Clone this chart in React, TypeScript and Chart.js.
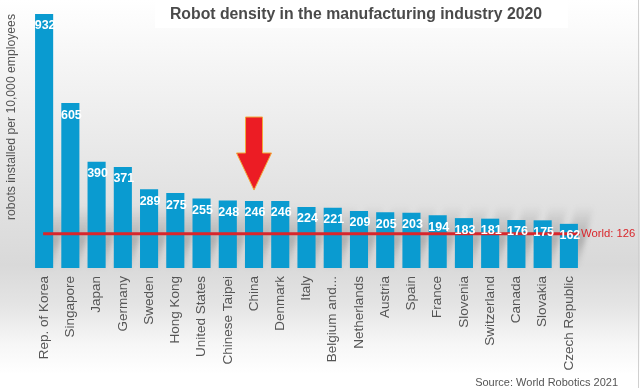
import React, { useEffect, useRef } from "react";
import { Chart, registerables } from "chart.js";

Chart.register(...registerables);

const countries = [
  "Rep. of Korea", "Singapore", "Japan", "Germany", "Sweden", "Hong Kong",
  "United States", "Chinese Taipei", "China", "Denmark", "Italy", "Belgium and...",
  "Netherlands", "Austria", "Spain", "France", "Slovenia", "Switzerland",
  "Canada", "Slovakia", "Czech Republic",
];
const density = [
  932, 605, 390, 371, 289, 275, 255, 248, 246, 246, 224, 221, 209, 205, 203,
  194, 183, 181, 176, 175, 162,
];
const worldAverage = 126;
const worldLabel = "World: 126";
const highlightCountry = "China";
// arrow drawn in data units above the highlighted bar: [top, neck, tip]
const arrowValues = [554, 422, 286];

const titleText = "Robot density in the manufacturing industry 2020";
const yTitleText = "robots installed per 10,000 employees";
const sourceText = "Source: World Robotics 2021";

const FONT = "'Liberation Sans', Arial, sans-serif";

const overlayPlugin = {
  id: "overlay",
  beforeDatasetsDraw(chart: any) {
    const ctx = chart.ctx;
    const meta = chart.getDatasetMeta(0);
    const bottom = chart.chartArea.bottom;
    ctx.save();
    (ctx as any).filter = "blur(2.5px)";
    meta.data.forEach((bar: any) => {
      const l = bar.x - bar.width / 2;
      const r = bar.x + bar.width / 2;
      const h = 62;
      const g = ctx.createLinearGradient(0, bottom, 0, bottom - h);
      g.addColorStop(0, "rgba(90,90,90,0.05)");
      g.addColorStop(0.45, "rgba(90,90,90,0.35)");
      g.addColorStop(1, "rgba(90,90,90,0)");
      ctx.fillStyle = g;
      ctx.beginPath();
      ctx.moveTo(l, bottom);
      ctx.lineTo(r, bottom);
      ctx.lineTo(r + 16, bottom - h);
      ctx.lineTo(l + 16, bottom - h);
      ctx.closePath();
      ctx.fill();
    });
    ctx.restore();
  },
  afterDatasetsDraw(chart: any) {
    const ctx = chart.ctx;
    const x = chart.scales.x;
    const y = chart.scales.y;
    const meta = chart.getDatasetMeta(0);

    // world line
    const firstBar = meta.data[0];
    const lastBar = meta.data[meta.data.length - 1];
    const wy = y.getPixelForValue(worldAverage);
    ctx.save();
    ctx.strokeStyle = "#d9262b";
    ctx.lineWidth = 3;
    ctx.beginPath();
    ctx.moveTo(firstBar.x - 1, wy);
    ctx.lineTo(lastBar.x + lastBar.width / 2 + 2, wy);
    ctx.stroke();
    ctx.fillStyle = "#d9262b";
    ctx.font = `11.3px ${FONT}`;
    ctx.textAlign = "left";
    ctx.textBaseline = "middle";
    ctx.fillText(worldLabel, lastBar.x + lastBar.width / 2 + 3, wy);
    ctx.restore();

    // value labels
    ctx.save();
    ctx.fillStyle = "#ffffff";
    ctx.font = `bold 12.5px ${FONT}`;
    ctx.textAlign = "center";
    ctx.textBaseline = "middle";
    meta.data.forEach((bar: any, i: number) => {
      ctx.fillText(String(density[i]), bar.x + 1, bar.y + 12);
    });
    ctx.restore();

    // arrow
    const idx = countries.indexOf(highlightCountry);
    const ax = x.getPixelForValue(idx);
    const top = y.getPixelForValue(arrowValues[0]);
    const neck = y.getPixelForValue(arrowValues[1]);
    const tip = y.getPixelForValue(arrowValues[2]);
    ctx.save();
    ctx.beginPath();
    ctx.moveTo(ax - 8.5, top);
    ctx.lineTo(ax + 8.5, top);
    ctx.lineTo(ax + 8.5, neck);
    ctx.lineTo(ax + 17.5, neck);
    ctx.lineTo(ax, tip);
    ctx.lineTo(ax - 17.5, neck);
    ctx.lineTo(ax - 8.5, neck);
    ctx.closePath();
    ctx.fillStyle = "#ec1c24";
    ctx.fill();
    ctx.strokeStyle = "#f2a93b";
    ctx.lineWidth = 1;
    ctx.stroke();
    ctx.restore();
  },
  afterDraw(chart: any) {
    const ctx = chart.ctx;
    ctx.save();
    // title box
    ctx.fillStyle = "rgba(255,255,255,0.9)";
    ctx.fillRect(155, 0, 413, 28);
    ctx.fillStyle = "#4a4a4a";
    ctx.font = `bold 15.8px ${FONT}`;
    ctx.textAlign = "center";
    ctx.textBaseline = "middle";
    ctx.fillText(titleText, 356, 15);

    // y title
    ctx.save();
    ctx.translate(12, 117);
    ctx.rotate(-Math.PI / 2);
    ctx.fillStyle = "#555555";
    ctx.font = `12.2px ${FONT}`;
    ctx.textAlign = "center";
    ctx.textBaseline = "middle";
    ctx.fillText(yTitleText, 0, 0);
    ctx.restore();

    // source
    ctx.fillStyle = "#555555";
    ctx.font = `11px ${FONT}`;
    ctx.textAlign = "right";
    ctx.textBaseline = "middle";
    ctx.fillText(sourceText, 618, 383);

    // right border line
    ctx.fillStyle = "#d0d0d0";
    ctx.fillRect(638, 0, 1, 388);
    ctx.restore();
  },
};

export default function App() {
  const ref = useRef<HTMLCanvasElement | null>(null);
  useEffect(() => {
    document.body.style.margin = "0";
    if (!ref.current) return;
    const chart = new Chart(ref.current, {
      type: "bar",
      data: {
        labels: countries,
        datasets: [
          {
            data: density,
            backgroundColor: "#0a9bd0",
            barPercentage: 0.69,
            categoryPercentage: 1,
          },
        ],
      },
      options: {
        animation: false,
        responsive: false,
        devicePixelRatio: 1,
        layout: { padding: { left: 31, right: 58, top: 14, bottom: 0 } },
        plugins: {
          legend: { display: false },
          title: { display: false },
          tooltip: { enabled: false },
        },
        scales: {
          x: {
            grid: { display: false, drawTicks: false },
            border: { display: false },
            ticks: {
              autoSkip: false,
              maxRotation: 90,
              minRotation: 90,
              padding: 8,
              color: "#555555",
              font: { family: FONT, size: 13.5 },
            },
            afterFit: (scale: any) => {
              scale.height = 122;
            },
          },
          y: {
            display: false,
            min: 0,
            max: 932,
          },
        },
      },
      plugins: [overlayPlugin],
    });
    return () => chart.destroy();
  }, []);
  return (
    <div
      style={{
        position: "absolute",
        left: 0,
        top: 0,
        width: 640,
        height: 390,
        background:
          "linear-gradient(to bottom, #ffffff 0%, #f3f3f3 20%, #e2e2e2 50%, #d9d9d9 68%, #e4e4e4 78%, #f6f6f6 88%, #ffffff 96%)",
      }}
    >
      <canvas ref={ref} width={640} height={390} style={{ display: "block" }} />
    </div>
  );
}
